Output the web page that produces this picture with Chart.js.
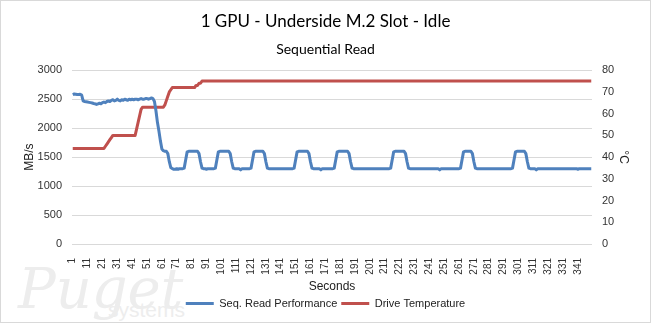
<!DOCTYPE html>
<html>
<head>
<meta charset="utf-8">
<script src="https://cdn.jsdelivr.net/npm/chart.js@4.4.0/dist/chart.umd.min.js"></script>
<style>
  html, body { margin: 0; padding: 0; background: #fff; }
  .wrap { position: relative; width: 651px; height: 323px; overflow: hidden; }
  .wrap canvas { position: relative; z-index: 1; }
  .mark { position: absolute; color: #ededed; z-index: 0; white-space: nowrap; }
</style>
</head>
<body>
<div class="wrap">
  <div class="mark" style="left:18px; top:256px; font: italic 56px 'DejaVu Serif';">Puget</div>
  <div class="mark" style="left:108px; top:298px; font: 21px 'Liberation Sans';">systems</div>
  <canvas id="chart" width="651" height="323"></canvas>
</div>
<script>
// MB/s per second
const readMBs = [
  2580, 2590, 2585, 2580, 2580, 2585, 2570, 2470, 2460, 2455,
  2450, 2445, 2440, 2435, 2425, 2420, 2410, 2420, 2430, 2420,
  2440, 2450, 2440, 2460, 2470, 2460, 2480, 2490, 2470, 2480,
  2500, 2480, 2470, 2490, 2480, 2500, 2490, 2480, 2500, 2490,
  2500, 2490, 2500, 2500, 2490, 2500, 2510, 2500, 2500, 2510,
  2510, 2500, 2510, 2520, 2510, 2460, 2300, 2100, 1950, 1780,
  1640, 1610, 1600, 1600, 1560, 1420, 1320, 1300, 1290, 1290,
  1300, 1290, 1300, 1300, 1300, 1310, 1450, 1590, 1600, 1600,
  1600, 1600, 1600, 1600, 1600, 1560, 1420, 1310, 1300, 1300,
  1290, 1300, 1300, 1300, 1300, 1300, 1310, 1450, 1590, 1600,
  1600, 1600, 1600, 1600, 1600, 1600, 1560, 1420, 1310, 1300,
  1300, 1300, 1300, 1280, 1300, 1300, 1300, 1300, 1300, 1300,
  1310, 1450, 1590, 1600, 1600, 1600, 1600, 1600, 1600, 1560,
  1420, 1310, 1300, 1300, 1300, 1300, 1300, 1300, 1300, 1300,
  1300, 1300, 1300, 1300, 1300, 1300, 1300, 1300, 1300, 1310,
  1450, 1590, 1600, 1600, 1600, 1600, 1600, 1600, 1600, 1560,
  1420, 1310, 1300, 1300, 1300, 1300, 1300, 1280, 1300, 1300,
  1300, 1300, 1300, 1300, 1300, 1300, 1310, 1450, 1590, 1600,
  1600, 1600, 1600, 1600, 1600, 1600, 1560, 1420, 1310, 1300,
  1300, 1300, 1300, 1300, 1300, 1300, 1300, 1300, 1300, 1300,
  1300, 1300, 1300, 1300, 1300, 1300, 1300, 1300, 1300, 1300,
  1300, 1300, 1300, 1300, 1310, 1450, 1590, 1600, 1600, 1600,
  1600, 1600, 1600, 1600, 1560, 1420, 1310, 1300, 1300, 1300,
  1300, 1300, 1300, 1300, 1300, 1300, 1300, 1300, 1300, 1300,
  1300, 1300, 1300, 1300, 1300, 1300, 1300, 1280, 1300, 1300,
  1300, 1300, 1300, 1300, 1300, 1300, 1300, 1300, 1300, 1300,
  1300, 1310, 1450, 1590, 1600, 1600, 1600, 1600, 1600, 1560,
  1420, 1310, 1300, 1300, 1300, 1300, 1300, 1300, 1300, 1300,
  1300, 1300, 1300, 1300, 1300, 1300, 1300, 1300, 1300, 1300,
  1300, 1300, 1300, 1300, 1300, 1300, 1310, 1450, 1590, 1600,
  1600, 1600, 1600, 1600, 1600, 1560, 1420, 1310, 1300, 1300,
  1300, 1300, 1280, 1300, 1300, 1300, 1300, 1300, 1300, 1300,
  1300, 1300, 1300, 1300, 1300, 1300, 1300, 1300, 1300, 1300,
  1300, 1300, 1300, 1300, 1300, 1300, 1300, 1300, 1300, 1300,
  1290, 1300, 1300, 1300, 1300, 1300, 1300, 1300, 1300, 1300
];

// drive temperature in °C per second
const driveTemp = [
  44, 44, 44, 44, 44, 44, 44, 44, 44, 44,
  44, 44, 44, 44, 44, 44, 44, 44, 44, 44,
  44, 44, 45, 46, 47, 48, 49, 50, 50, 50,
  50, 50, 50, 50, 50, 50, 50, 50, 50, 50,
  50, 50, 50, 53, 56, 59, 62, 63, 63, 63,
  63, 63, 63, 63, 63, 63, 63, 63, 63, 63,
  63, 63, 64, 66, 68, 70, 71, 72, 72, 72,
  72, 72, 72, 72, 72, 72, 72, 72, 72, 72,
  72, 72, 72, 73, 73, 74, 74, 75, 75, 75,
  75, 75, 75, 75, 75, 75, 75, 75, 75, 75,
  75, 75, 75, 75, 75, 75, 75, 75, 75, 75,
  75, 75, 75, 75, 75, 75, 75, 75, 75, 75,
  75, 75, 75, 75, 75, 75, 75, 75, 75, 75,
  75, 75, 75, 75, 75, 75, 75, 75, 75, 75,
  75, 75, 75, 75, 75, 75, 75, 75, 75, 75,
  75, 75, 75, 75, 75, 75, 75, 75, 75, 75,
  75, 75, 75, 75, 75, 75, 75, 75, 75, 75,
  75, 75, 75, 75, 75, 75, 75, 75, 75, 75,
  75, 75, 75, 75, 75, 75, 75, 75, 75, 75,
  75, 75, 75, 75, 75, 75, 75, 75, 75, 75,
  75, 75, 75, 75, 75, 75, 75, 75, 75, 75,
  75, 75, 75, 75, 75, 75, 75, 75, 75, 75,
  75, 75, 75, 75, 75, 75, 75, 75, 75, 75,
  75, 75, 75, 75, 75, 75, 75, 75, 75, 75,
  75, 75, 75, 75, 75, 75, 75, 75, 75, 75,
  75, 75, 75, 75, 75, 75, 75, 75, 75, 75,
  75, 75, 75, 75, 75, 75, 75, 75, 75, 75,
  75, 75, 75, 75, 75, 75, 75, 75, 75, 75,
  75, 75, 75, 75, 75, 75, 75, 75, 75, 75,
  75, 75, 75, 75, 75, 75, 75, 75, 75, 75,
  75, 75, 75, 75, 75, 75, 75, 75, 75, 75,
  75, 75, 75, 75, 75, 75, 75, 75, 75, 75,
  75, 75, 75, 75, 75, 75, 75, 75, 75, 75,
  75, 75, 75, 75, 75, 75, 75, 75, 75, 75,
  75, 75, 75, 75, 75, 75, 75, 75, 75, 75
];

// x labels that are shown (every 10 s)
const tickLabels = ['1', '11', '21', '31', '41', '51', '61', '71', '81', '91',
  '101', '111', '121', '131', '141', '151', '161', '171', '181', '191',
  '201', '211', '221', '231', '241', '251', '261', '271', '281', '291',
  '301', '311', '321', '331', '341'];

const seconds = readMBs.map((v, i) => String(i + 1));

Chart.defaults.font.family = "'Liberation Sans', Arial, sans-serif";
Chart.defaults.color = '#333';

// thin grey frame round the picture
const frame = {
  id: 'frame',
  afterDraw(chart) {
    const c = chart.ctx;
    c.save();
    c.strokeStyle = '#d9d9d9';
    c.lineWidth = 1;
    c.strokeRect(0.5, 0.5, chart.width - 1, chart.height - 1);
    c.restore();
  }
};

new Chart(document.getElementById('chart'), {
  type: 'line',
  data: {
    labels: seconds,
    datasets: [
      {
        label: 'Seq. Read Performance',
        data: readMBs,
        yAxisID: 'y',
        borderColor: '#4f81bd',
        backgroundColor: '#4f81bd',
        borderWidth: 3,
        pointRadius: 0,
        tension: 0,
        borderJoinStyle: 'round'
      },
      {
        label: 'Drive Temperature',
        data: driveTemp,
        yAxisID: 'y1',
        borderColor: '#c0504d',
        backgroundColor: '#c0504d',
        borderWidth: 3,
        pointRadius: 0,
        tension: 0,
        borderJoinStyle: 'round'
      }
    ]
  },
  options: {
    responsive: false,
    animation: false,
    layout: { padding: { left: 0, right: 0, top: 0, bottom: 4 } },
    plugins: {
      title: {
        display: true,
        text: '1 GPU - Underside M.2 Slot - Idle',
        color: '#000',
        font: { family: 'Lato', size: 17, weight: 'normal' },
        padding: { top: 11, bottom: 4 }
      },
      subtitle: {
        display: true,
        text: 'Sequential Read',
        color: '#000',
        font: { family: 'Lato', size: 14, weight: 'normal' },
        padding: { top: 6, bottom: 12 }
      },
      legend: {
        position: 'bottom',
        labels: {
          usePointStyle: true,
          pointStyle: 'line',
          pointStyleWidth: 28,
          padding: 4,
          color: '#222',
          font: { size: 11 }
        }
      },
      tooltip: { enabled: false }
    },
    scales: {
      x: {
        offset: true,
        grid: { display: false },
        border: { display: false },
        ticks: {
          autoSkip: false,
          maxRotation: 90,
          minRotation: 90,
          padding: 6,
          font: { size: 10 },
          callback: function (v) {
            const l = this.getLabelForValue(v);
            return tickLabels.includes(l) ? l : '';
          }
        },
        title: { display: true, text: 'Seconds', color: '#222', font: { size: 12 }, padding: { top: 0, bottom: 0 } },
        afterFit: (s) => { s.height = 50; }
      },
      y: {
        position: 'left',
        min: 0,
        max: 3000,
        ticks: { stepSize: 500, padding: 10, font: { size: 11 }, callback: (v) => String(v) },
        grid: { color: '#d9d9d9', drawTicks: false },
        border: { display: false },
        title: { display: true, text: 'MB/s', color: '#222', font: { size: 12 }, padding: { top: 22, bottom: 0 } },
        afterFit: (s) => { s.width = 72; }
      },
      y1: {
        position: 'right',
        min: 0,
        max: 80,
        ticks: { stepSize: 10, padding: 10, font: { size: 11 }, callback: (v) => String(v) },
        grid: { display: false, drawTicks: false },
        border: { display: false },
        title: { display: true, text: '°C', color: '#222', font: { size: 12 }, padding: { top: 20, bottom: 0 } },
        afterFit: (s) => { s.width = 59; }
      }
    }
  },
  plugins: [frame]
});
</script>
</body>
</html>
